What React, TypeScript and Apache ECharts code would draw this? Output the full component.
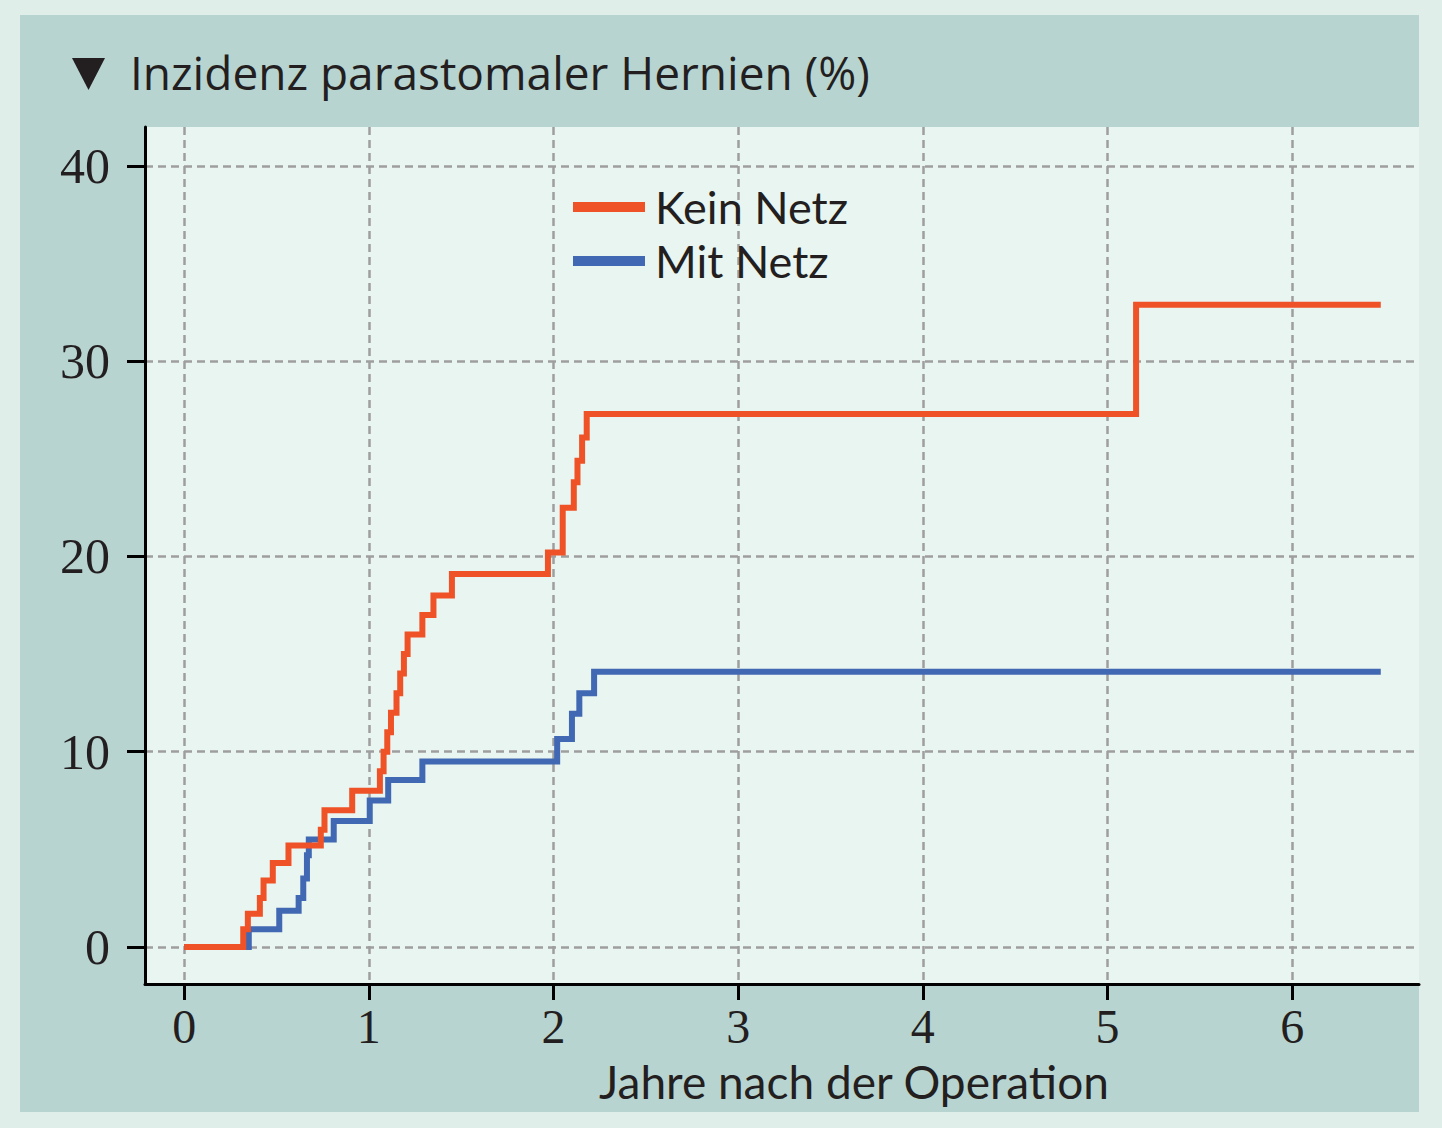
import React, { useEffect, useRef } from "react";
import * as echarts from "echarts";

const titleText = "Inzidenz parastomaler Hernien (%)";
const xAxisName = "Jahre nach der Operation";
const seriesNames = ["Kein Netz", "Mit Netz"];
const xTicks = [0, 1, 2, 3, 4, 5, 6];
const yTicks = [0, 10, 20, 30, 40];

const redTimes = [0, 0.32, 0.345, 0.41, 0.43, 0.48, 0.565, 0.74, 0.76, 0.91, 1.06, 1.08, 1.1, 1.12, 1.15, 1.17, 1.19, 1.21, 1.29, 1.35, 1.45, 1.97, 2.05, 2.11, 2.13, 2.155, 2.18, 5.155, 6.48];
const redValues = [0, 0.9, 1.7, 2.5, 3.4, 4.3, 5.2, 6.0, 7.0, 8.0, 9.0, 10.0, 11.0, 12.0, 13.0, 14.0, 15.0, 16.0, 17.0, 18.0, 19.1, 20.2, 22.5, 23.8, 24.9, 26.1, 27.3, 32.9, 32.9];

const blueTimes = [0, 0.35, 0.515, 0.62, 0.645, 0.665, 0.675, 0.81, 1.005, 1.105, 1.29, 2.02, 2.1, 2.14, 2.22, 6.48];
const blueValues = [0, 0.9, 1.85, 2.5, 3.5, 4.7, 5.5, 6.45, 7.5, 8.55, 9.5, 10.65, 11.95, 13.0, 14.1, 14.1];

const RED = "#ef5226";
const BLUE = "#4168b3";
const TEXT = "#231f20";
const SANS = "'Open Sans'";
const SANS2 = "Lato";

export default function App() {
  const ref = useRef<HTMLDivElement>(null);
  useEffect(() => {
    if (!ref.current) return;
    const chart = echarts.init(ref.current, undefined, { renderer: "svg" });
    const redData = redTimes.map((t, i) => [t, redValues[i]]);
    const blueData = blueTimes.map((t, i) => [t, blueValues[i]]);
    const gridLine = { show: true, lineStyle: { color: "#9e9e9e", width: 2.5, type: [8, 5] } };
    chart.setOption({
      animation: false,
      backgroundColor: "#dfeee9",
      title: {
        text: titleText,
        left: 125,
        top: 44,
        textStyle: { fontFamily: SANS, fontSize: 46, fontWeight: "normal", color: TEXT },
      },
      graphic: [
        {
          type: "rect",
          z: -100,
          shape: { x: 20, y: 15, width: 1399, height: 1097 },
          style: { fill: "#b8d4d1" },
        },
        {
          type: "polygon",
          shape: { points: [[72, 58], [105, 58], [88.5, 90]] },
          style: { fill: TEXT },
        },
      ],
      legend: {
        data: seriesNames,
        orient: "vertical",
        left: 568,
        top: 175,
        itemWidth: 72,
        itemHeight: 10,
        itemGap: 0,
        icon: "rect",
        textStyle: {
          fontFamily: SANS2,
          fontSize: 45,
          lineHeight: 54,
          color: TEXT,
          padding: [0, 0, 0, 5],
        },
      },
      grid: {
        show: true,
        left: 145,
        top: 127,
        right: 23,
        bottom: 144,
        backgroundColor: "#e9f5f1",
        borderWidth: 0,
      },
      xAxis: {
        type: "value",
        min: -0.212,
        max: 6.687,
        name: xAxisName,
        nameLocation: "middle",
        nameGap: 74,
        nameTextStyle: {
          fontFamily: SANS2,
          fontSize: 46,
          lineHeight: 46,
          color: TEXT,
          padding: [0, 0, 0, 144],
        },
        axisLine: { show: true, onZero: false, lineStyle: { color: "#000", width: 3 } },
        axisTick: { show: true, length: 16, lineStyle: { color: "#000", width: 3 }, customValues: xTicks },
        axisLabel: {
          customValues: xTicks,
          margin: 18,
          lineHeight: 48,
          fontFamily: "Liberation Serif",
          fontSize: 48,
          color: TEXT,
        },
        splitLine: gridLine,
      },
      yAxis: {
        type: "value",
        min: -1.9,
        max: 42,
        axisLine: { show: true, onZero: false, lineStyle: { color: "#000", width: 3 } },
        axisTick: { show: true, length: 18, lineStyle: { color: "#000", width: 3 }, customValues: yTicks },
        axisLabel: {
          customValues: yTicks,
          margin: 35,
          fontFamily: "Liberation Serif",
          fontSize: 50,
          color: TEXT,
        },
        splitLine: gridLine,
      },
      series: [
        {
          name: seriesNames[1],
          type: "line",
          step: "end",
          data: blueData,
          showSymbol: false,
          symbol: "none",
          color: BLUE,
          lineStyle: { color: BLUE, width: 6, join: "miter" },
        },
        {
          name: seriesNames[0],
          type: "line",
          step: "end",
          data: redData,
          showSymbol: false,
          symbol: "none",
          color: RED,
          lineStyle: { color: RED, width: 6, join: "miter" },
        },
      ],
    });
    return () => chart.dispose();
  }, []);
  return (
    <div
      ref={ref}
      style={{ position: "absolute", left: 0, top: 0, width: 1442, height: 1128 }}
    />
  );
}
